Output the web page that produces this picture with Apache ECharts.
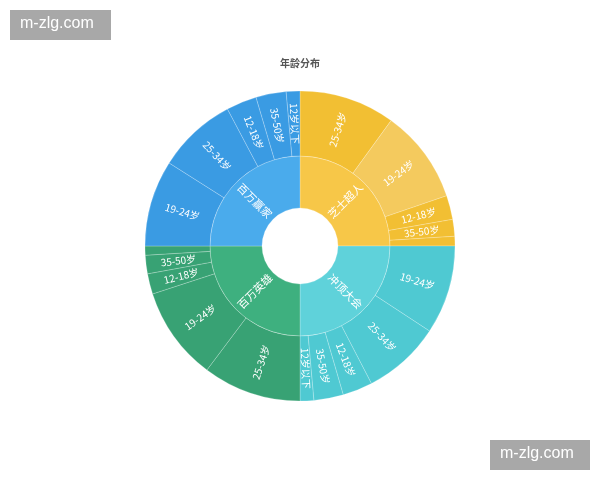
<!DOCTYPE html>
<html><head><meta charset="utf-8">
<script src="https://cdn.jsdelivr.net/npm/echarts@6/dist/echarts.min.js"></script>
<style>html,body{margin:0;padding:0;background:#fff}#c{width:600px;height:480px}</style>
</head><body><div id="c"></div>
<script>
const titleText = '年龄分布';
const platforms = ['芝士超人', '冲顶大会', '百万英雄', '百万赢家'];
const ageOrder1 = ['25-34岁', '19-24岁', '12-18岁', '35-50岁', '12岁以下'];
const ageOrder2 = ['19-24岁', '25-34岁', '12-18岁', '35-50岁', '12岁以下'];
const values_zhishi = [40, 39, 10, 7, 4];
const values_chongding = [37, 32.5, 12.5, 12.3, 5.7];
const values_baiwanyx = [41, 39, 8.5, 7.7, 3.8];
const values_baiwanyj = [36, 33, 12.7, 12.6, 5.7];

const innerColors = ['#F7C748', '#5FD2DA', '#3EB07F', '#4AABEC'];
const outerColors = ['#F2BF33', '#4FC9D2', '#38A274', '#3A9BE3'];
const lighter = {0: {'19-24岁': '#F4CA5E'}};

const groups = [
  [ageOrder1, values_zhishi],
  [ageOrder2, values_chongding],
  [ageOrder1, values_baiwanyx],
  [ageOrder2, values_baiwanyj]
];

const data = platforms.map((p, i) => ({
  name: p,
  itemStyle: {color: innerColors[i]},
  children: groups[i][0].map((a, j) => ({
    name: a,
    value: groups[i][1][j],
    itemStyle: {color: (lighter[i] && lighter[i][a]) || outerColors[i]}
  }))
}));

const chart = echarts.init(document.getElementById('c'));
chart.setOption({
  animation: false,
  title: {
    text: titleText, left: 'center', top: 53,
    textStyle: {fontSize: 10, fontWeight: 'bold', color: '#555', fontFamily: 'Noto Sans CJK SC'}
  },
  graphic: [
    {type: 'rect', left: 10, top: 10, shape: {width: 101, height: 30}, style: {fill: '#A8A8A8'}},
    {type: 'text', left: 20, top: 16, style: {text: 'm-zlg.com', fill: '#fff', font: '16px "Liberation Sans", Arial'}},
    {type: 'rect', left: 490, top: 440, shape: {width: 100, height: 30}, style: {fill: '#A8A8A8'}},
    {type: 'text', left: 500, top: 446, style: {text: 'm-zlg.com', fill: '#fff', font: '16px "Liberation Sans", Arial'}}
  ],
  series: [{
    type: 'sunburst',
    center: ['50%', 246],
    radius: [38, 155],
    sort: null,
    startAngle: 90,
    data: data,
    itemStyle: {borderColor: 'rgba(255,255,255,0.22)', borderWidth: 1},
    label: {
      color: '#fff', fontSize: 10, rotate: 'radial', minAngle: 4.5,
      fontFamily: 'Noto Sans CJK SC'
    },
    levels: [
      {},
      {r0: 38, r: 90, label: {fontSize: 11}},
      {r0: 90, r: 155, label: {fontSize: 10}}
    ]
  }]
});
</script></body></html>
